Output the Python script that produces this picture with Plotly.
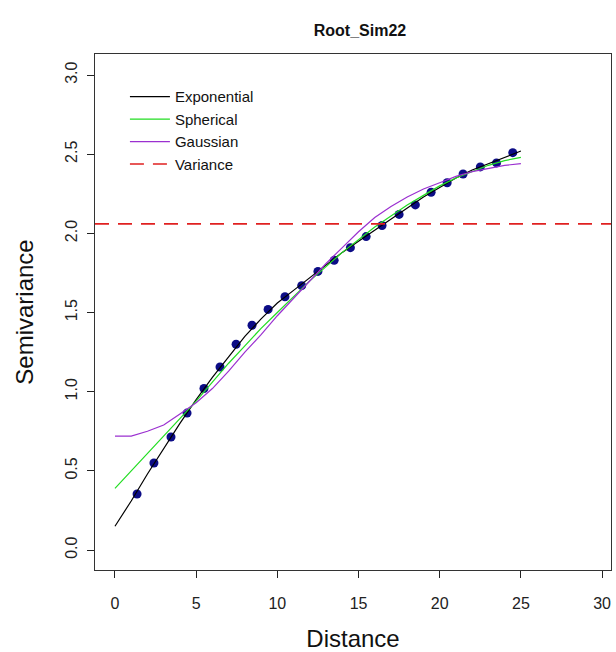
import plotly.graph_objects as go

# Empirical semivariogram points
dist = [1.36, 2.4, 3.45, 4.44, 5.48, 6.47, 7.46, 8.44, 9.43, 10.47, 11.5, 12.5,
        13.5, 14.5, 15.47, 16.45, 17.5, 18.5, 19.47, 20.46, 21.44, 22.5, 23.5, 24.5]
semivar = [0.354, 0.55, 0.714, 0.865, 1.02, 1.156, 1.30, 1.42, 1.52, 1.60, 1.67, 1.76,
           1.83, 1.91, 1.98, 2.05, 2.12, 2.18, 2.26, 2.32, 2.375, 2.42, 2.445, 2.51]

# Fitted model curves
h = [0, 1, 2, 3, 4, 5, 6, 7, 8, 9, 10, 11, 12, 13, 14, 15, 16, 17, 18, 19, 20, 21, 22, 23, 24, 25]
exp_model = [0.15, 0.31, 0.48, 0.64, 0.80, 0.95, 1.09, 1.22, 1.35, 1.46, 1.56, 1.64, 1.72,
             1.80, 1.88, 1.95, 2.02, 2.09, 2.16, 2.23, 2.29, 2.35, 2.40, 2.44, 2.48, 2.52]
sph_model = [0.39, 0.50, 0.61, 0.72, 0.83, 0.94, 1.06, 1.18, 1.29, 1.40, 1.50, 1.60, 1.70,
             1.79, 1.88, 1.96, 2.04, 2.11, 2.18, 2.24, 2.30, 2.35, 2.39, 2.43, 2.46, 2.48]
gau_model = [0.72, 0.72, 0.75, 0.79, 0.86, 0.93, 1.02, 1.13, 1.25, 1.36, 1.48, 1.59, 1.70,
             1.81, 1.91, 2.01, 2.10, 2.17, 2.23, 2.28, 2.32, 2.36, 2.39, 2.41, 2.43, 2.44]
variance = 2.06

x_ticks = [0, 5, 10, 15, 20, 25, 30]
y_ticks = [0.0, 0.5, 1.0, 1.5, 2.0, 2.5, 3.0]
y_tick_text = ["0.0", "0.5", "1.0", "1.5", "2.0", "2.5", "3.0"]

fig = go.Figure()
fig.add_trace(go.Scatter(x=dist, y=semivar, mode="markers",
                         marker=dict(color="#0c0c86", size=9), showlegend=False))
fig.add_trace(go.Scatter(x=h, y=exp_model, mode="lines", name="Exponential",
                         line=dict(color="black", width=1.2)))
fig.add_trace(go.Scatter(x=h, y=sph_model, mode="lines", name="Spherical",
                         line=dict(color="#22dd22", width=1.2)))
fig.add_trace(go.Scatter(x=h, y=gau_model, mode="lines", name="Gaussian",
                         line=dict(color="#9b30d0", width=1.2)))
fig.add_trace(go.Scatter(x=[None], y=[None], mode="lines", name="Variance",
                         line=dict(color="#e02020", width=1.6, dash="14px,9px")))
fig.add_hline(y=variance, line=dict(color="#e02020", width=1.6, dash="14px,9px"))

axis_font = dict(family="Arial, Liberation Sans, sans-serif", size=16, color="#222")
fig.update_layout(
    width=616, height=652,
    margin=dict(l=95, r=5, t=54, b=82),
    paper_bgcolor="white", plot_bgcolor="white",
    font=dict(family="Arial, Liberation Sans, sans-serif", color="#111"),
    title=dict(text="<b>Root_Sim22</b>", x=360 / 616, xanchor="center",
               y=1 - 30 / 652, yanchor="middle",
               font=dict(size=16, color="#111")),
    legend=dict(x=0.058, y=0.949, xanchor="left", yanchor="top",
                bgcolor="rgba(0,0,0,0)", borderwidth=0, itemwidth=40,
                font=dict(size=15, color="#111"), tracegroupgap=0),
    xaxis=dict(range=[-1.23, 30.55], tickvals=x_ticks, ticks="outside", ticklen=7,
               tickcolor="#222", showline=True, linecolor="#333", linewidth=1.3,
               mirror=True, showgrid=False, zeroline=False, tickfont=axis_font,
               ticklabelstandoff=12,
               title=dict(text="Distance", font=dict(size=24, color="#111"), standoff=18)),
    yaxis=dict(range=[-0.126, 3.133], tickvals=y_ticks, ticktext=y_tick_text,
               ticks="outside", ticklen=7, tickangle=-90,
               tickcolor="#222", showline=True, linecolor="#333", linewidth=1.3,
               mirror=True, showgrid=False, zeroline=False, tickfont=axis_font,
               ticklabelstandoff=3,
               title=dict(text="Semivariance", font=dict(size=24, color="#111"), standoff=23)),
)
fig.write_html("out.html")
